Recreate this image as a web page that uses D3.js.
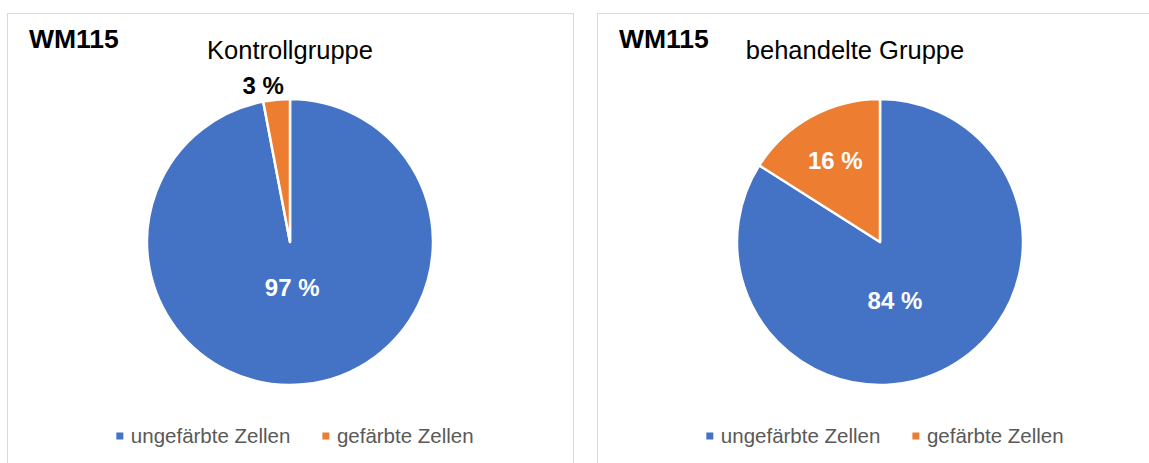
<!DOCTYPE html>
<html>
<head>
<meta charset="utf-8">
<script src="https://cdn.jsdelivr.net/npm/d3@7"></script>
<style>
  body { margin: 0; background: #fff; }
  svg { display: block; font-family: "Liberation Sans", Arial, sans-serif; }
</style>
</head>
<body>
<svg id="chart" width="1149" height="463"></svg>
<script>
// categories and values
var categories = ["ungefärbte Zellen", "gefärbte Zellen"];
var chartTitles = ["Kontrollgruppe", "behandelte Gruppe"];
var sampleName = "WM115";
var kontrollValues = [97, 3];
var behandeltValues = [84, 16];
var colors = ["#4472C4", "#ED7D31"];

var svg = d3.select("#chart");

// panel layout (one per chart)
var panels = [
    {x: 7.5, title: chartTitles[0], titleX: 290, cx: 290, bigLabel: 0.32, values: kontrollValues},
    {x: 597.5, title: chartTitles[1], titleX: 855, cx: 880, bigLabel: 0.42, values: behandeltValues}
];
var panelW = 566, cy = 242, r = 143;

var color = d3.scaleOrdinal().domain(categories).range(colors);

panels.forEach(function (p) {
    var g = svg.append("g");

    // chart border
    g.append("rect")
        .attr("x", p.x).attr("y", 13.5)
        .attr("width", panelW).attr("height", 470)
        .attr("fill", "#fff")
        .attr("stroke", "#d9d9d9").attr("stroke-width", 1);

    g.append("text")
        .attr("x", p.x + 21.5).attr("y", 48)
        .attr("font-size", 26.5).attr("font-weight", "bold")
        .attr("fill", "#000")
        .text(sampleName);

    g.append("text")
        .attr("x", p.titleX).attr("y", 59)
        .attr("text-anchor", "middle")
        .attr("font-size", 25.5)
        .attr("fill", "#000")
        .text(p.title);

    var data = categories.map(function (c, i) { return {cat: c, value: p.values[i]}; });
    var pie = d3.pie().sort(null).value(function (d) { return d.value; });
    var arcs = pie(data);
    var arc = d3.arc().innerRadius(0).outerRadius(r);

    var pg = g.append("g").attr("transform", "translate(" + p.cx + "," + cy + ")");

    pg.selectAll("path.slice")
        .data(arcs).enter()
        .append("path")
        .attr("class", "slice")
        .attr("d", arc)
        .attr("fill", function (d) { return color(d.data.cat); })
        .attr("stroke", "#fff")
        .attr("stroke-width", 2.5)
        .attr("stroke-linejoin", "round");

    // data labels: big slices inside (pulled toward the bottom, like excel's best fit),
    // tiny slices outside the pie
    pg.selectAll("text.lbl")
        .data(arcs).enter()
        .append("text")
        .attr("class", "lbl")
        .each(function (d) {
            var share = d.value / d3.sum(p.values);
            var mid = (d.startAngle + d.endAngle) / 2;
            var outside = share < 0.05;
            var dist = r * 0.65;
            if (outside) dist = r * 1.1;
            else if (share > 0.5) { dist = r * p.bigLabel; mid = (mid + Math.PI) / 2; }
            var x = Math.sin(mid) * dist, y = -Math.cos(mid) * dist;
            if (outside) x -= 12;
            d3.select(this)
                .attr("x", x).attr("y", y)
                .attr("dy", "0.35em")
                .attr("fill", outside ? "#000" : "#fff");
        })
        .attr("text-anchor", "middle")
        .attr("font-size", 24)
        .attr("font-weight", "bold")
        .text(function (d) { return d.value + " %"; });

    // legend, centred under the pie
    var lg = g.append("g");
    var xPos = 0;
    categories.forEach(function (c, i) {
        if (i > 0) xPos += 32;
        lg.append("rect")
            .attr("x", xPos).attr("y", 432.5)
            .attr("width", 7).attr("height", 7)
            .attr("fill", color(c));
        var t = lg.append("text")
            .attr("x", xPos + 14.5).attr("y", 443)
            .attr("font-size", 20.5)
            .attr("fill", "#595959")
            .text(c);
        xPos += 14.5 + t.node().getComputedTextLength();
    });
    lg.attr("transform", "translate(" + (p.cx + 5 - xPos / 2) + ",0)");
});
</script>
</body>
</html>
